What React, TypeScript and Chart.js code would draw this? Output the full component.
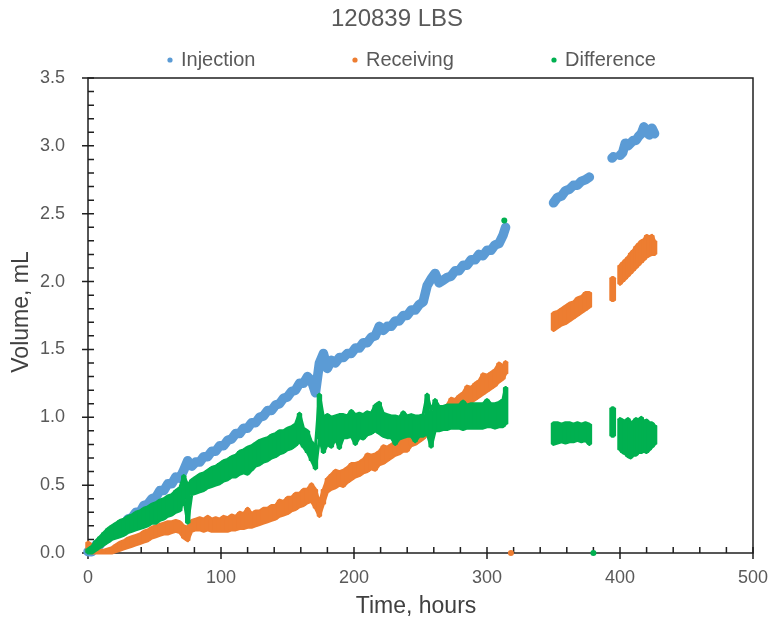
import { useEffect, useRef } from 'react';
import { Chart, registerables } from 'chart.js';

Chart.register(...registerables);

// ---- chart text ----
const TITLE = '120839 LBS';
const X_TITLE = 'Time, hours';
const Y_TITLE = 'Volume, mL';
const seriesNames = ['Injection', 'Receiving', 'Difference'];
const seriesColors = ['#5B9BD5', '#ED7D31', '#00B050'];

// ---- sample times (hours); null rows in the series mark logging gaps ----
const hours = [
  0, 3, 6, 9, 12, 15, 18, 21, 24, 27,
  30, 33, 36, 39, 42, 45, 48, 51, 54, 57,
  60, 63, 66, 69, 72, 75, 78, 81, 84, 87,
  90, 93, 96, 99, 102, 105, 108, 111, 114, 117,
  120, 123, 126, 129, 132, 135, 138, 141, 144, 147,
  150, 153, 156, 159, 162, 165, 168, 171, 174, 177,
  180, 183, 186, 189, 192, 195, 198, 201, 204, 207,
  210, 213, 216, 219, 222, 225, 228, 231, 234, 237,
  240, 243, 246, 249, 252, 255, 258, 261, 264, 267,
  270, 273, 276, 279, 282, 285, 288, 291, 294, 297,
  300, 303, 306, 309, 312, 314,
  330,
  350, 353, 356, 359, 362, 365, 368, 371, 374, 377,
  385,
  394, 395,
  397,
  400, 402, 404, 406, 408, 410, 412, 414, 416, 418, 420, 422, 424, 426,
];

// Injection volume, mL (narrow trace)
const injection = [
  0.01, 0.01, 0.06, 0.06, 0.11, 0.11, 0.15, 0.16, 0.20, 0.21,
  0.25, 0.26, 0.30, 0.30, 0.35, 0.36, 0.40, 0.41, 0.46, 0.46,
  0.51, 0.51, 0.56, 0.55, 0.61, 0.68, 0.64, 0.67, 0.67, 0.71,
  0.71, 0.75, 0.75, 0.79, 0.79, 0.83, 0.84, 0.88, 0.88, 0.92,
  0.92, 0.96, 0.96, 1.00, 1.01, 1.05, 1.05, 1.09, 1.10, 1.14,
  1.15, 1.19, 1.20, 1.25, 1.25, 1.30, 1.27, 1.18, 1.40, 1.47,
  1.36, 1.42, 1.40, 1.44, 1.44, 1.47, 1.47, 1.51, 1.51, 1.55,
  1.55, 1.59, 1.60, 1.67, 1.64, 1.67, 1.67, 1.71, 1.71, 1.75,
  1.75, 1.79, 1.79, 1.83, 1.85, 1.97, 2.02, 2.06, 1.99, 2.01,
  2.03, 2.04, 2.08, 2.08, 2.12, 2.12, 2.16, 2.16, 2.20, 2.19,
  2.23, 2.23, 2.27, 2.28, 2.34, 2.40,
  null,
  2.58, 2.62, 2.63, 2.67, 2.68, 2.71, 2.71, 2.74, 2.75, 2.77,
  null,
  2.91, 2.92,
  null,
  2.93, 2.95, 3.02, 3.00, 3.02, 3.04, 3.04, 3.07, 3.09, 3.14, 3.10, 3.08, 3.13, 3.09,
];

// Receiving volume, mL: upper and lower edge of the scatter at each time
const receivingHigh = [
  0.08, 0.06, 0.02, 0.02, 0.02, 0.03, 0.04, 0.06, 0.08, 0.09,
  0.11, 0.12, 0.13, 0.14, 0.16, 0.17, 0.19, 0.20, 0.21, 0.22,
  0.23, 0.23, 0.24, 0.23, 0.20, 0.19, 0.24, 0.25, 0.26, 0.25,
  0.27, 0.25, 0.26, 0.25, 0.27, 0.26, 0.28, 0.27, 0.30, 0.29,
  0.33, 0.29, 0.31, 0.31, 0.33, 0.33, 0.35, 0.35, 0.39, 0.38,
  0.41, 0.41, 0.44, 0.44, 0.47, 0.47, 0.51, 0.47, 0.37, 0.47,
  0.55, 0.58, 0.61, 0.60, 0.61, 0.63, 0.66, 0.66, 0.67, 0.69,
  0.73, 0.72, 0.73, 0.75, 0.79, 0.78, 0.80, 0.82, 0.84, 0.88,
  0.87, 0.89, 0.91, 0.96, 0.95, 0.98, 1.00, 1.05, 1.04, 1.07,
  1.09, 1.14, 1.13, 1.16, 1.18, 1.23, 1.22, 1.25, 1.27, 1.32,
  1.31, 1.33, 1.35, 1.40, 1.38, 1.41,
  null,
  1.77, 1.78, 1.80, 1.82, 1.84, 1.85, 1.88, 1.89, 1.92, 1.92,
  null,
  2.03, 2.03,
  null,
  2.12, 2.14, 2.16, 2.18, 2.21, 2.23, 2.26, 2.28, 2.30, 2.31, 2.34, 2.33, 2.34, 2.30,
];
const receivingLow = [
  0.01, 0.00, 0.00, 0.00, 0.00, 0.00, 0.00, 0.01, 0.02, 0.03,
  0.04, 0.05, 0.06, 0.07, 0.08, 0.09, 0.11, 0.12, 0.13, 0.14,
  0.14, 0.15, 0.16, 0.15, 0.11, 0.09, 0.16, 0.17, 0.17, 0.16,
  0.17, 0.16, 0.16, 0.16, 0.16, 0.16, 0.17, 0.17, 0.18, 0.18,
  0.19, 0.19, 0.20, 0.21, 0.22, 0.23, 0.24, 0.25, 0.27, 0.28,
  0.29, 0.31, 0.32, 0.34, 0.35, 0.37, 0.38, 0.33, 0.27, 0.36,
  0.45, 0.47, 0.48, 0.50, 0.49, 0.52, 0.54, 0.56, 0.57, 0.59,
  0.60, 0.62, 0.61, 0.65, 0.66, 0.68, 0.70, 0.72, 0.73, 0.75,
  0.75, 0.79, 0.80, 0.82, 0.84, 0.87, 0.89, 0.91, 0.93, 0.96,
  0.98, 1.00, 1.02, 1.04, 1.06, 1.09, 1.11, 1.13, 1.15, 1.17,
  1.19, 1.21, 1.23, 1.26, 1.28, 1.32,
  null,
  1.64, 1.66, 1.68, 1.69, 1.71, 1.73, 1.75, 1.77, 1.79, 1.81,
  null,
  1.86, 1.86,
  null,
  1.98, 2.00, 2.02, 2.04, 2.06, 2.08, 2.10, 2.12, 2.14, 2.16, 2.18, 2.19, 2.20, 2.20,
];

// Difference (injection - receiving), mL: upper and lower edge of the scatter
const differenceHigh = [
  0.03, 0.05, 0.09, 0.12, 0.15, 0.18, 0.20, 0.22, 0.24, 0.25,
  0.27, 0.28, 0.30, 0.31, 0.33, 0.34, 0.36, 0.37, 0.39, 0.40,
  0.42, 0.43, 0.46, 0.48, 0.57, 0.50, 0.54, 0.56, 0.58, 0.59,
  0.61, 0.63, 0.64, 0.66, 0.68, 0.69, 0.71, 0.72, 0.75, 0.76,
  0.78, 0.79, 0.81, 0.83, 0.84, 0.85, 0.87, 0.88, 0.90, 0.90,
  0.92, 0.93, 0.95, 1.03, 0.92, 0.90, 0.82, 0.78, 1.17, 1.00,
  1.02, 1.00, 1.01, 1.02, 1.02, 1.01, 1.05, 1.02, 1.03, 1.02,
  1.04, 1.03, 1.09, 1.11, 1.03, 1.02, 1.01, 1.01, 1.00, 1.04,
  1.01, 1.02, 1.01, 1.01, 1.02, 1.17, 1.05, 1.13, 1.08, 1.08,
  1.09, 1.09, 1.09, 1.09, 1.12, 1.09, 1.10, 1.10, 1.10, 1.10,
  1.13, 1.10, 1.10, 1.11, 1.13, 1.22,
  null,
  0.96, 0.96, 0.95, 0.96, 0.96, 0.95, 0.96, 0.95, 0.96, 0.95,
  null,
  1.07, 1.07,
  null,
  0.99, 0.98, 0.97, 0.99, 0.96, 0.97, 0.99, 0.98, 1.00, 0.97, 0.98, 0.96, 0.96, 0.94,
];
const differenceLow = [
  0.00, 0.00, 0.02, 0.04, 0.06, 0.08, 0.10, 0.11, 0.12, 0.13,
  0.15, 0.16, 0.17, 0.18, 0.19, 0.20, 0.22, 0.22, 0.24, 0.25,
  0.27, 0.28, 0.30, 0.31, 0.40, 0.22, 0.43, 0.44, 0.45, 0.46,
  0.48, 0.49, 0.50, 0.51, 0.53, 0.54, 0.56, 0.56, 0.58, 0.59,
  0.58, 0.61, 0.64, 0.65, 0.67, 0.68, 0.70, 0.71, 0.73, 0.74,
  0.76, 0.77, 0.79, 0.82, 0.78, 0.74, 0.68, 0.62, 0.84, 0.74,
  0.80, 0.78, 0.84, 0.77, 0.85, 0.85, 0.86, 0.80, 0.85, 0.84,
  0.87, 0.88, 0.90, 0.88, 0.86, 0.85, 0.85, 0.80, 0.84, 0.85,
  0.86, 0.86, 0.82, 0.86, 0.86, 0.88, 0.78, 0.90, 0.90, 0.91,
  0.91, 0.92, 0.92, 0.92, 0.91, 0.92, 0.92, 0.92, 0.92, 0.92,
  0.93, 0.93, 0.92, 0.93, 0.93, 0.95,
  null,
  0.80, 0.81, 0.82, 0.81, 0.82, 0.82, 0.83, 0.82, 0.83, 0.80,
  null,
  0.86, 0.86,
  null,
  0.76, 0.74, 0.73, 0.71, 0.70, 0.72, 0.72, 0.74, 0.74, 0.75, 0.74, 0.76, 0.78, 0.80,
];

// isolated readings that sit apart from the main traces
const strayHours = [313, 318, 380];
const strayReceiving = [null, 0.0, null];
const strayDifference = [2.45, null, 0.0];

// axis ranges
const X_MIN = 0;
const X_MAX = 500;
const X_STEP = 100;
const Y_MIN = 0;
const Y_MAX = 3.5;
const Y_STEP = 0.5;

const FONT = "'Liberation Sans', Arial, Helvetica, sans-serif";
const TEXT = '#595959';
const AXIS_TITLE = '#404040';
const AXIS = '#1f1f1f';

const toPoints = (xs: number[], ys: (number | null)[]) =>
  xs.map((x, i) => ({ x, y: ys[i] }));

// vertical spread of readings at each time, as floating bars
const toSpread = (xs: number[], lo: (number | null)[], hi: (number | null)[]) =>
  xs.map((x, i) => ({
    x,
    y: lo[i] === null || hi[i] === null ? null : [lo[i], hi[i]],
  }));

// frame with crossing major ticks and inside minor ticks, plus title, legend and axis titles
const decorations = {
  id: 'decorations',
  beforeDatasetsDraw(chart: any) {
    const { ctx, chartArea: a } = chart;
    const xs = chart.scales.x;
    const ys = chart.scales.y;
    ctx.save();
    ctx.strokeStyle = AXIS;
    ctx.lineWidth = 1.5;
    ctx.strokeRect(a.left, a.top, a.right - a.left, a.bottom - a.top);
    ctx.beginPath();
    for (let i = 0; i <= 25; i++) {
      const px = xs.getPixelForValue(i * 20);
      const major = i % 5 === 0;
      ctx.moveTo(px, a.bottom + (major ? 6 : 0));
      ctx.lineTo(px, a.bottom - 6);
    }
    for (let i = 0; i <= 35; i++) {
      const py = ys.getPixelForValue(i / 10);
      const major = i % 5 === 0;
      ctx.moveTo(a.left - (major ? 6 : 0), py);
      ctx.lineTo(a.left + 6, py);
    }
    ctx.stroke();
    ctx.restore();
  },
  afterDraw(chart: any) {
    const { ctx } = chart;
    ctx.save();
    ctx.textBaseline = 'middle';

    // title
    ctx.fillStyle = TEXT;
    ctx.textAlign = 'center';
    ctx.font = `24px ${FONT}`;
    ctx.fillText(TITLE, 397, 19);

    // legend row
    const markerX = [170, 355, 554];
    ctx.font = `20px ${FONT}`;
    ctx.textAlign = 'left';
    seriesNames.forEach((name, i) => {
      ctx.fillStyle = seriesColors[i];
      ctx.beginPath();
      ctx.arc(markerX[i], 60, 2.6, 0, Math.PI * 2);
      ctx.fill();
      ctx.fillStyle = TEXT;
      ctx.fillText(name, markerX[i] + 11, 60);
    });

    // axis titles
    ctx.fillStyle = AXIS_TITLE;
    ctx.font = `23px ${FONT}`;
    ctx.textAlign = 'center';
    ctx.fillText(X_TITLE, 416, 607);
    ctx.translate(22, 312);
    ctx.rotate(-Math.PI / 2);
    ctx.fillText(Y_TITLE, 0, 0);
    ctx.restore();
  },
};

// a noisy trace: floating bars fill the spread, edge lines follow its outline
const bandDatasets = (
  name: string,
  lo: (number | null)[],
  hi: (number | null)[],
  color: string,
  order: number
) => {
  const edge = {
    type: 'line',
    borderColor: color,
    backgroundColor: color,
    borderWidth: 3,
    borderCapStyle: 'round',
    borderJoinStyle: 'round',
    pointRadius: 0,
    pointHoverRadius: 0,
    spanGaps: false,
    tension: 0,
    fill: false,
    clip: false,
    order,
  };
  return [
    {
      type: 'bar',
      label: name,
      data: toSpread(hours, lo, hi),
      backgroundColor: color,
      grouped: false,
      barThickness: 4.8,
      borderWidth: 0,
      borderRadius: 1,
      borderSkipped: false,
      clip: false,
      order,
    },
    { ...edge, label: name + ' upper', data: toPoints(hours, hi) },
    { ...edge, label: name + ' lower', data: toPoints(hours, lo) },
  ];
};

export default function App() {
  const canvasRef = useRef<HTMLCanvasElement | null>(null);

  useEffect(() => {
    const canvas = canvasRef.current;
    if (!canvas) return;

    const [blue, orange, green] = seriesColors;

    const datasets: any[] = [
      {
        type: 'line',
        label: seriesNames[0],
        data: toPoints(hours, injection),
        borderColor: blue,
        backgroundColor: blue,
        borderWidth: 9.5,
        borderCapStyle: 'round',
        borderJoinStyle: 'round',
        pointRadius: 0,
        pointHoverRadius: 0,
        spanGaps: false,
        tension: 0,
        fill: false,
        clip: false,
        order: 3,
      },
      ...bandDatasets(seriesNames[1], receivingLow, receivingHigh, orange, 2),
      ...bandDatasets(seriesNames[2], differenceLow, differenceHigh, green, 1),
      {
        type: 'line',
        label: 'Receiving (isolated)',
        data: toPoints(strayHours, strayReceiving),
        showLine: false,
        backgroundColor: orange,
        borderColor: orange,
        borderWidth: 0,
        pointRadius: 3,
        clip: false,
        order: 0,
      },
      {
        type: 'line',
        label: 'Difference (isolated)',
        data: toPoints(strayHours, strayDifference),
        showLine: false,
        backgroundColor: green,
        borderColor: green,
        borderWidth: 0,
        pointRadius: 3,
        clip: false,
        order: 0,
      },
    ];

    const chart = new Chart(canvas, {
      type: 'line',
      data: { datasets },
      plugins: [decorations],
      options: {
        responsive: false,
        animation: false,
        devicePixelRatio: 1,
        layout: { padding: { top: 78, right: 15, left: 0, bottom: 0 } },
        plugins: {
          legend: { display: false },
          title: { display: false },
          tooltip: { enabled: false },
        },
        scales: {
          x: {
            type: 'linear',
            min: X_MIN,
            max: X_MAX,
            offset: false,
            grid: { display: false, drawTicks: false, offset: false },
            border: { display: false },
            ticks: {
              stepSize: X_STEP,
              color: TEXT,
              font: { family: FONT, size: 18 },
              padding: 14,
              maxRotation: 0,
            },
            afterFit(scale: any) {
              scale.height = 69;
              scale.paddingLeft = 0;
              scale.paddingRight = 0;
            },
          },
          y: {
            type: 'linear',
            min: Y_MIN,
            max: Y_MAX,
            grid: { display: false, drawTicks: false },
            border: { display: false },
            ticks: {
              stepSize: Y_STEP,
              color: TEXT,
              font: { family: FONT, size: 18 },
              padding: 23,
              callback: (v: any) => Number(v).toFixed(1),
            },
            afterFit(scale: any) {
              scale.width = 88;
            },
          },
        },
      } as any,
    });

    return () => chart.destroy();
  }, []);

  return (
    <div
      style={{
        position: 'absolute',
        left: 0,
        top: 0,
        width: 768,
        height: 622,
        background: '#ffffff',
      }}
    >
      <canvas ref={canvasRef} width={768} height={622} style={{ display: 'block' }} />
    </div>
  );
}
